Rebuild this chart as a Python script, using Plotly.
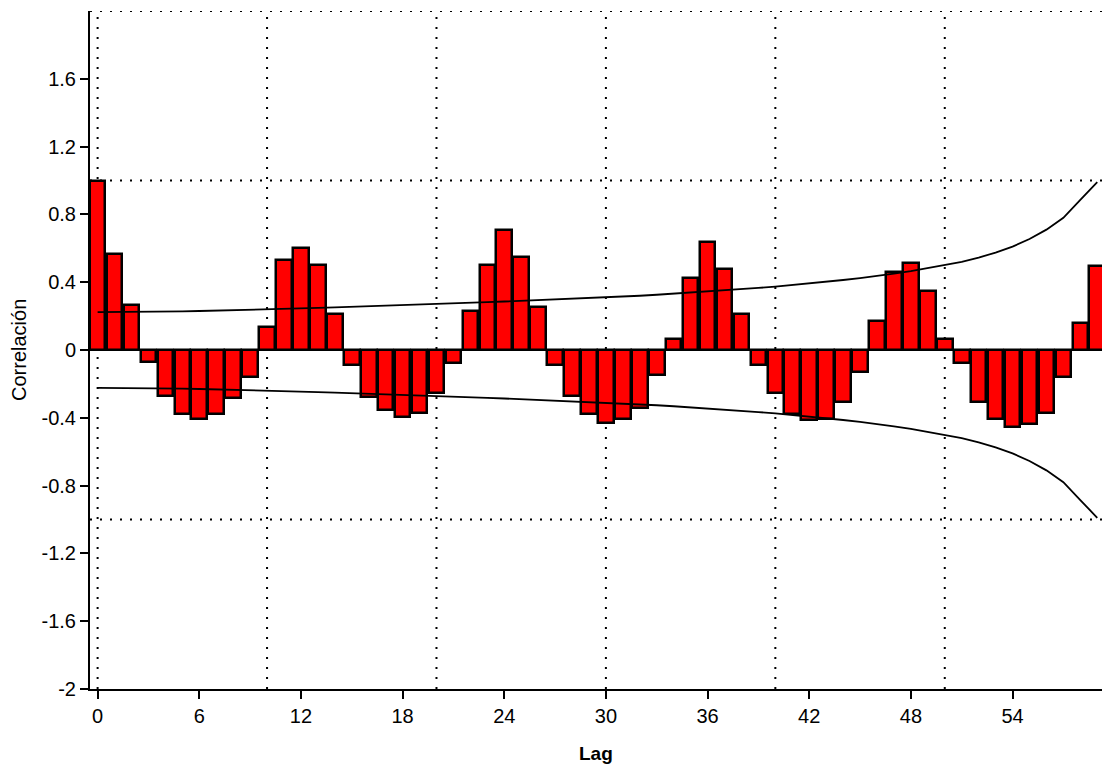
import plotly.graph_objects as go

lags = list(range(60))
acf = [1.0, 0.568, 0.265, -0.073, -0.271, -0.38, -0.407, -0.38, -0.285, -0.161,
       0.138, 0.529, 0.6, 0.5, 0.21, -0.088, -0.275, -0.354, -0.393, -0.374,
       -0.252, -0.075, 0.23, 0.5, 0.706, 0.549, 0.252, -0.088, -0.271, -0.38,
       -0.429, -0.405, -0.34, -0.147, 0.065, 0.423, 0.635, 0.48, 0.21, -0.088,
       -0.252, -0.38, -0.413, -0.405, -0.309, -0.13, 0.173, 0.462, 0.511, 0.35,
       0.065, -0.075, -0.309, -0.405, -0.452, -0.437, -0.374, -0.161, 0.158, 0.496]
limit = [0.224, 0.224, 0.225, 0.226, 0.227, 0.228, 0.23, 0.232, 0.234, 0.237,
         0.24, 0.242, 0.245, 0.248, 0.251, 0.254, 0.257, 0.26, 0.263, 0.267,
         0.27, 0.274, 0.278, 0.282, 0.286, 0.29, 0.294, 0.298, 0.302, 0.306,
         0.31, 0.315, 0.32, 0.326, 0.332, 0.338, 0.344, 0.351, 0.358, 0.366,
         0.374, 0.383, 0.392, 0.402, 0.413, 0.424, 0.436, 0.45, 0.465, 0.482,
         0.5, 0.52, 0.545, 0.575, 0.61, 0.655, 0.71, 0.78, 0.885, 0.99]
x_ticks = [0, 6, 12, 18, 24, 30, 36, 42, 48, 54]
y_ticks = [-2, -1.6, -1.2, -0.8, -0.4, 0, 0.4, 0.8, 1.2, 1.6]
y_tick_text = ["-2", "-1.6", "-1.2", "-0.8", "-0.4", "0", "0.4", "0.8", "1.2", "1.6"]
x_grid = [0, 10, 20, 30, 40, 50]
y_grid = [-1, 0, 1, 2]

fig = go.Figure()
fig.add_trace(go.Bar(x=lags, y=acf, width=0.92,
                     marker=dict(color="#FF0000", line=dict(color="black", width=2.5)),
                     hoverinfo="skip"))
fig.add_trace(go.Scatter(x=lags, y=limit, mode="lines",
                         line=dict(color="black", width=1.8), hoverinfo="skip"))
fig.add_trace(go.Scatter(x=lags, y=[-v for v in limit], mode="lines",
                         line=dict(color="black", width=1.8), hoverinfo="skip"))

shapes = []
for gx in x_grid:
    shapes.append(dict(type="line", xref="x", yref="paper", x0=gx, x1=gx, y0=0, y1=1,
                       layer="below", line=dict(color="black", width=2, dash="2px,8px")))
for gy in y_grid:
    shapes.append(dict(type="line", xref="paper", yref="y", x0=0, x1=1, y0=gy, y1=gy,
                       layer="below", line=dict(color="black", width=2, dash="2px,8px")))

font = "Liberation Sans, Arial, sans-serif"
fig.update_layout(
    width=1102, height=769,
    margin=dict(l=90, r=0, t=11, b=80, autoexpand=False),
    paper_bgcolor="white", plot_bgcolor="white",
    showlegend=False, shapes=shapes, bargap=0,
    font=dict(family=font, size=20, color="black"),
    xaxis=dict(range=[-0.45, 59.28], tickvals=x_ticks, ticks="outside", ticklen=8,
               tickwidth=2, tickcolor="black", showgrid=False, zeroline=False,
               showline=True, linecolor="black", linewidth=2, automargin=False,
               tickfont=dict(family=font, size=20, color="black")),
    yaxis=dict(range=[-2, 2], tickvals=y_ticks, ticktext=y_tick_text, ticks="outside",
               ticklen=8, tickwidth=2, tickcolor="black", showgrid=False, zeroline=False,
               showline=True, linecolor="black", linewidth=2, automargin=False,
               tickfont=dict(family=font, size=20, color="black")),
    annotations=[
        dict(text="Correlación", xref="paper", yref="paper", x=0, y=0.5,
             xanchor="center", yanchor="middle", xshift=-71, textangle=-90,
             showarrow=False, font=dict(family=font, size=20, color="black")),
        dict(text="<b>Lag</b>", xref="paper", yref="paper", x=0.5, y=0,
             xanchor="center", yanchor="middle", yshift=-64,
             showarrow=False, font=dict(family=font, size=19, color="black")),
    ],
)

fig.write_html("out.html", config={"displayModeBar": False},
               post_script="document.body.style.margin='0';document.body.style.overflow='hidden';")
